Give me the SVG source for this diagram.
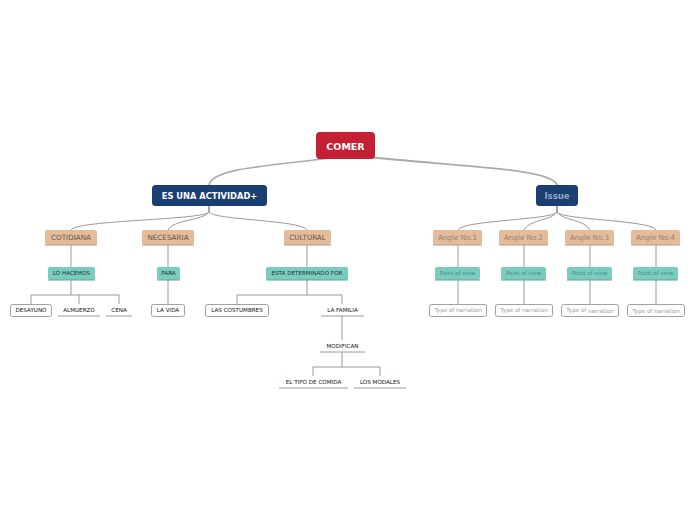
<svg xmlns="http://www.w3.org/2000/svg" width="696" height="520" viewBox="0 0 696 520">
<style>
text{font-family:"DejaVu Sans","Liberation Sans",sans-serif;text-anchor:middle;dominant-baseline:central}
.c{fill:none;stroke:#9a9a9a;stroke-width:1}
.tan{fill:#e2bc9b;stroke:none}
.tanl{stroke:#b89a80;stroke-width:1}
.teal{fill:#7accbe}
.teall{stroke:#5aa898;stroke-width:1}
.box{fill:#fff;stroke:#8a8a8a;stroke-width:0.8}
.ul{stroke:#9a9a9a;stroke-width:1}
.t2{font-size:7.2px;fill:#6a5444}
.t2a{font-size:7.2px;fill:#9c806c}
.t3{font-size:5.6px;fill:#1e3434}
.t3a{font-size:5.6px;fill:#3f8f80}
.t4{font-size:5.6px;fill:#111}
.t4a{font-size:5.6px;fill:#999}
</style>
<rect width="696" height="520" fill="#fff"/>
<g id="connectors">
<path d="M330 158 C 270 166, 212 168, 209 185" fill="none" stroke="#aaa" stroke-width="1.6"/>
<path d="M368 157 C 450 166, 553 168, 557 185" fill="none" stroke="#aaa" stroke-width="1.8"/>
<path class="c" d="M209 206 L209 212 C 205 220, 75 220, 71 230"/>
<path class="c" d="M209 206 L209 212 C 205 220, 172 220, 168 230"/>
<path class="c" d="M209 206 L209 212 C 212 220, 303 220, 307 230"/>
<path class="c" d="M557 206 L557 212 C 553 220, 462 220, 458 230"/>
<path class="c" d="M557 206 L557 212 C 553 220, 528 220, 524 230"/>
<path class="c" d="M557 206 L557 212 C 561 220, 586 220, 590 230"/>
<path class="c" d="M557 206 L557 212 C 561 220, 652 220, 656 230"/>
<path class="c" d="M71 245 V267 M71 280 V295 M31 304 V295 H119 V304 M79 295 V304"/>
<path class="c" d="M168 245 V267 M168 280 V304"/>
<path class="c" d="M307 245 V267 M307 280 V295 M237 304 V295 H342 V304"/>
<path class="c" d="M342 316 V340 M342 352 V367 M313 376 V367 H380 V376"/>
<path class="c" d="M458 245 V267 M458 280 V304 M524 245 V267 M524 280 V304 M590 245 V267 M590 280 V304 M656 245 V267 M656 280 V304"/>
</g>
<g id="comer"><rect x="316" y="132" width="59" height="27" rx="4" fill="#c41f33"/><text x="345.5" y="146" font-size="9.5" font-weight="bold" fill="#fff">COMER</text></g>
<g id="esuna"><rect x="152" y="185" width="115" height="21" rx="3.5" fill="#1c3f73"/><text x="209.5" y="195.5" font-size="8.3" font-weight="bold" fill="#fff">ES UNA ACTIVIDAD+</text></g>
<g id="issue"><rect x="536" y="185" width="42" height="21" rx="3.5" fill="#1c3f73"/><text x="557" y="195.5" font-size="8.5" font-weight="bold" fill="#8ea7c6">Issue</text></g>
<g id="cotidiana"><rect class="tan" x="45" y="230" width="52" height="15" rx="2"/><line class="tanl" x1="45" y1="245" x2="97" y2="245"/><text class="t2" x="71" y="237">COTIDIANA</text></g>
<g id="necesaria"><rect class="tan" x="142" y="230" width="52" height="15" rx="2"/><line class="tanl" x1="142" y1="245" x2="194" y2="245"/><text class="t2" x="168" y="237">NECESARIA</text></g>
<g id="cultural"><rect class="tan" x="284" y="230" width="47" height="15" rx="2"/><line class="tanl" x1="284" y1="245" x2="331" y2="245"/><text class="t2" x="307.5" y="237">CULTURAL</text></g>
<g id="angle1"><rect class="tan" x="433" y="230" width="49" height="15" rx="2"/><line class="tanl" x1="433" y1="245" x2="482" y2="245"/><text class="t2a" x="457.5" y="237">Angle No.1</text></g>
<g id="angle2"><rect class="tan" x="499" y="230" width="49" height="15" rx="2"/><line class="tanl" x1="499" y1="245" x2="548" y2="245"/><text class="t2a" x="523.5" y="237">Angle No.2</text></g>
<g id="angle3"><rect class="tan" x="565" y="230" width="49" height="15" rx="2"/><line class="tanl" x1="565" y1="245" x2="614" y2="245"/><text class="t2a" x="589.5" y="237">Angle No.3</text></g>
<g id="angle4"><rect class="tan" x="631" y="230" width="49" height="15" rx="2"/><line class="tanl" x1="631" y1="245" x2="680" y2="245"/><text class="t2a" x="655.5" y="237">Angle No.4</text></g>
<g id="lohacemos"><rect class="teal" x="48" y="267" width="47" height="13" rx="2"/><line class="teall" x1="48" y1="280" x2="95" y2="280"/><text class="t3" x="71.5" y="273">LO HACEMOS</text></g>
<g id="para"><rect class="teal" x="157" y="267" width="23" height="13" rx="2"/><line class="teall" x1="157" y1="280" x2="180" y2="280"/><text class="t3" x="168.5" y="273">PARA</text></g>
<g id="esta"><rect class="teal" x="266" y="267" width="82" height="13" rx="2"/><line class="teall" x1="266" y1="280" x2="348" y2="280"/><text class="t3" x="307" y="273">ESTA DETERMINADO POR</text></g>
<g id="pov1"><rect class="teal" x="435" y="267" width="45" height="13" rx="2"/><line class="teall" x1="435" y1="280" x2="480" y2="280"/><text class="t3a" x="457.5" y="273">Point of view</text></g>
<g id="pov2"><rect class="teal" x="501" y="267" width="45" height="13" rx="2"/><line class="teall" x1="501" y1="280" x2="546" y2="280"/><text class="t3a" x="523.5" y="273">Point of view</text></g>
<g id="pov3"><rect class="teal" x="567" y="267" width="45" height="13" rx="2"/><line class="teall" x1="567" y1="280" x2="612" y2="280"/><text class="t3a" x="589.5" y="273">Point of view</text></g>
<g id="pov4"><rect class="teal" x="633" y="267" width="45" height="13" rx="2"/><line class="teall" x1="633" y1="280" x2="678" y2="280"/><text class="t3a" x="655.5" y="273">Point of view</text></g>
<g id="desayuno"><rect class="box" x="10.5" y="304.5" width="41" height="12" rx="2"/><text class="t4" x="31" y="310">DESAYUNO</text></g>
<g id="almuerzo"><line class="ul" x1="58" y1="316" x2="100" y2="316"/><text class="t4" x="79" y="310">ALMUERZO</text></g>
<g id="cena"><line class="ul" x1="106" y1="316" x2="132" y2="316"/><text class="t4" x="119" y="310">CENA</text></g>
<g id="lavida"><rect class="box" x="151.5" y="304.5" width="33" height="12" rx="2"/><text class="t4" x="168" y="310">LA VIDA</text></g>
<g id="costumbres"><rect class="box" x="205.5" y="304.5" width="63" height="12" rx="2"/><text class="t4" x="237" y="310">LAS COSTUMBRES</text></g>
<g id="familia"><line class="ul" x1="321" y1="316" x2="364" y2="316"/><text class="t4" x="342.5" y="310">LA FAMILIA</text></g>
<g id="modifican"><line class="ul" x1="320" y1="352" x2="365" y2="352"/><text class="t4" x="342.5" y="346">MODIFICAN</text></g>
<g id="tipo"><line class="ul" x1="279" y1="388" x2="348" y2="388"/><text class="t4" x="313.5" y="382">EL TIPO DE COMIDA</text></g>
<g id="modales"><line class="ul" x1="354" y1="388" x2="406" y2="388"/><text class="t4" x="380" y="382">LOS MODALES</text></g>
<g id="tn1"><rect class="box" x="429.5" y="304.5" width="57" height="12" rx="2"/><text class="t4a" x="458" y="310">Type of narration</text></g>
<g id="tn2"><rect class="box" x="495.5" y="304.5" width="57" height="12" rx="2"/><text class="t4a" x="524" y="310">Type of narration</text></g>
<g id="tn3"><rect class="box" x="561.5" y="304.5" width="57" height="12" rx="2"/><text class="t4a" x="590" y="310">Type of <tspan dy="1">narration</tspan></text></g>
<g id="tn4"><rect class="box" x="627.5" y="304.5" width="57" height="12" rx="2"/><text class="t4a" x="656" y="310.5">Type of narration</text></g>
</svg>
